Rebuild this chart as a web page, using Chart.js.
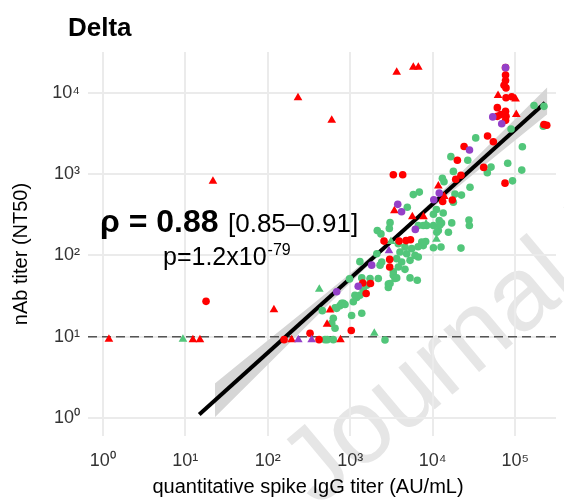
<!DOCTYPE html>
<html>
<head>
<meta charset="utf-8">
<script src="https://cdn.jsdelivr.net/npm/chart.js@4.4.1/dist/chart.umd.min.js"></script>
<style>
    html, body { margin: 0; padding: 0; background: #fff; }
    canvas { display: block; }
</style>
</head>
<body>
<canvas id="deltaChart" width="564" height="502"></canvas>
<script>
// Ejes (escala logaritmica)
const xMin = 0.664;
const xMax = 312000;
const yMin = 0.644;
const yMax = 31800;
const xTickValues = [1, 10, 100, 1000, 10000, 100000];
const xTickLabels = ["10⁰", "10¹", "10²", "10³", "10⁴", "10⁵"];
const yTickValues = [1, 10, 100, 1000, 10000];
const yTickLabels = ["10⁰", "10¹", "10²", "10³", "10⁴"];

// Limite de deteccion
const lodY = 10;

// Puntos rojos (circulos y triangulos)
const redCircleX = [17.9, 158, 326, 419, 1030, 1420, 1760, 1560, 3010, 3010, 2570, 3910, 4750, 5380, 3330, 4330, 13200, 17300, 19000, 22000, 19900, 24000, 46200, 54300, 41500, 75200, 76300, 76300, 76300, 73200, 77300, 77300, 90700, 60700, 76300, 77300, 60700, 76300, 66700, 223000, 241000];
const redCircleY = [27.2, 9.2, 11.0, 9.2, 11.9, 45.7, 45.1, 34.0, 89.3, 72.1, 150, 150, 152, 156, 984, 984, 460, 480, 866, 970, 1480, 2190, 2950, 2500, 1210, 774, 20400, 16600, 14200, 12400, 11500, 8710, 8960, 6570, 5920, 5140, 5140, 4590, 5400, 4070, 3990];
const redTriangleX = [1.19, 12.4, 15.1, 21.7, 119, 233, 597, 3660, 5820, 6690, 195, 569, 524, 762, 3430, 5660, 7730, 11700, 13800, 61900, 101000, 103000];
const redTriangleY = [9.3, 9.2, 9.2, 819, 21.4, 8710, 4590, 17950, 20650, 20650, 9.2, 21.3, 14.2, 9.2, 354, 299, 299, 716, 529, 9270, 8390, 5400];

// Puntos morados
const purpleCircleX = [76300, 53400, 68600, 27900, 12000, 10300, 3770, 4190, 6150, 1820, 1250, 686];
const purpleCircleY = [20400, 5060, 4160, 1980, 584, 484, 425, 345, 209, 75.9, 41.8, 35.7];
const purpleTriangleX = [235, 341, 2950];
const purpleTriangleY = [9.2, 9.2, 114];

// Puntos verdes
const greenTriangleX = [9.4, 422, 1960, 3120, 8300, 11100];
const greenTriangleY = [9.3, 38.4, 11.0, 148, 244, 158];
const greenCircleX = [169000, 223000, 219000, 89000, 33200, 122000, 16600, 26600, 81100, 50900, 45900, 120000, 17800, 92700, 28300, 13100, 13700, 18600, 22300, 17800, 5820, 6880, 4920, 11100, 13400, 10200, 3040, 2980, 2130, 2360, 17000, 12800, 27500, 27800, 12000, 15500, 11700, 8460, 7690, 6690, 10200, 12200, 11200, 8220, 7690, 10200, 12600, 22000, 7360, 3830, 4610, 5560, 6640, 4010, 4840, 6100, 3660, 4210, 5310, 6690, 3830, 4610, 3330, 3330, 3490, 5310, 6500, 2900, 2900, 2410, 2300, 1310, 2100, 982, 1380, 1740, 2190, 1580, 1440, 1310, 1200, 1090, 825, 752, 686, 1040, 1380, 624, 597, 655, 459, 495, 528, 624, 2640, 3040, 3660, 1140, 789, 865, 655];
const greenCircleY = [7000, 6820, 3880, 3590, 2790, 2170, 1640, 1480, 1360, 1220, 1040, 1120, 1080, 826, 688, 891, 807, 568, 552, 450, 560, 601, 391, 367, 333, 321, 253, 215, 202, 184, 251, 250, 273, 233, 268, 193, 202, 233, 233, 233, 233, 237, 193, 148, 132, 124, 127, 123, 146, 139, 127, 121, 128, 110, 105, 100, 91.2, 83, 86.9, 95.5, 72.1, 67.4, 62.7, 56.9, 51.9, 52.9, 49.5, 44.5, 40.3, 83, 75.9, 83.8, 105, 51.4, 52.9, 51.9, 51.9, 43, 37.3, 32.4, 30.4, 26.9, 25.7, 24.1, 22.3, 18.2, 19.4, 16.8, 14.6, 12.7, 20.9, 9.2, 9.2, 9.2, 9.1, 45.1, 52.9, 32.4, 25.7, 24.9, 22.7];

// Recta de regresion y banda de confianza
const fitX = [14.8, 230000];
const fitY = [1.1, 7550];
const bandX = [22.9, 100, 316, 1000, 3160, 10000, 31600, 100000, 245000];
const bandLow = [1.02, 4.51, 14.4, 45.6, 142, 389, 1010, 2610, 5470];
const bandHigh = [2.65, 8.95, 23.1, 59.8, 157, 472, 1500, 4760, 11700];

// Textos
const titleText = "Delta";
const rhoText = "ρ = 0.88";
const ciText = "[0.85–0.91]";
const pText = "p=1.2x10";
const pExp = "-79";
const xTitle = "quantitative spike IgG titer (AU/mL)";
const yTitle = "nAb titer (NT50)";
const watermarkText = "Journal Pre-proof";

const fontFamily = '"Liberation Sans", Arial, Helvetica, sans-serif';
const red = "#ff0000";
const green = "#52c67a";
const purple = "#9440c8";

const toPoints = (xs, ys) => xs.map((x, i) => ({ x: x, y: ys[i] }));
const powLabel = (values, labels) => (value) => {
    const i = values.indexOf(Math.round(value * 1000) / 1000);
    return i >= 0 ? labels[i] : "";
};

Chart.defaults.font.family = fontFamily;

// Marca de agua (debajo de todo) y textos de la grafica
const annotations = {
    id: "annotations",
    beforeDraw(chart) {
        const ctx = chart.ctx;
        ctx.save();
        ctx.fillStyle = "#fff";
        ctx.fillRect(0, 0, chart.width, chart.height);
        ctx.translate(317, 508);
        ctx.rotate((-40 * Math.PI) / 180);
        ctx.font = "105px " + fontFamily;
        ctx.fillStyle = "#e6e6e6";
        ctx.textBaseline = "alphabetic";
        ctx.fillText(watermarkText, 0, 0);
        ctx.restore();
    },
    afterDatasetsDraw(chart) {
        const ctx = chart.ctx;
        ctx.save();
        ctx.fillStyle = "#000";
        ctx.textAlign = "left";
        ctx.textBaseline = "alphabetic";

        ctx.font = "bold 26px " + fontFamily;
        ctx.fillText(titleText, 68, 36);

        ctx.font = "bold 32px " + fontFamily;
        ctx.fillText(rhoText, 100, 232);
        ctx.font = "26px " + fontFamily;
        ctx.fillText(ciText, 228, 232);

        ctx.font = "25px " + fontFamily;
        ctx.fillText(pText, 163, 265);
        const w = ctx.measureText(pText).width;
        ctx.font = "16px " + fontFamily;
        ctx.fillText(pExp, 163 + w + 1, 255);

        // Titulos de los ejes
        ctx.font = "20px " + fontFamily;
        ctx.textAlign = "center";
        ctx.textBaseline = "middle";
        ctx.fillText(xTitle, 308, 487);
        ctx.translate(21, 254);
        ctx.rotate(-Math.PI / 2);
        ctx.fillText(yTitle, 0, 0);
        ctx.restore();
    },
};

const ctx = document.getElementById("deltaChart").getContext("2d");
new Chart(ctx, {
    type: "scatter",
    data: {
        datasets: [
            {
                data: toPoints(bandX, bandLow),
                showLine: true,
                borderWidth: 0,
                pointRadius: 0,
                fill: false,
                order: 8,
            },
            {
                data: toPoints(bandX, bandHigh),
                showLine: true,
                borderWidth: 0,
                pointRadius: 0,
                fill: "-1",
                backgroundColor: "#d6d6d6",
                order: 7,
            },
            {
                data: toPoints([xMin, xMax], [lodY, lodY]),
                showLine: true,
                borderColor: "#555",
                borderWidth: 1.5,
                borderDash: [9, 5],
                pointRadius: 0,
                order: 6,
            },
            {
                data: toPoints(fitX, fitY),
                showLine: true,
                borderColor: "#000",
                borderWidth: 4,
                pointRadius: 0,
                order: 5,
            },
            {
                data: toPoints(greenCircleX, greenCircleY),
                pointStyle: "circle",
                pointRadius: 3.8,
                backgroundColor: green,
                borderWidth: 0,
                order: 4,
            },
            {
                data: toPoints(greenTriangleX, greenTriangleY),
                pointStyle: "triangle",
                pointRadius: 5,
                backgroundColor: green,
                borderWidth: 0,
                order: 4,
            },
            {
                data: toPoints(redCircleX, redCircleY),
                pointStyle: "circle",
                pointRadius: 3.8,
                backgroundColor: red,
                borderWidth: 0,
                order: 3,
            },
            {
                data: toPoints(redTriangleX, redTriangleY),
                pointStyle: "triangle",
                pointRadius: 5,
                backgroundColor: red,
                borderWidth: 0,
                order: 3,
            },
            {
                data: toPoints(purpleCircleX, purpleCircleY),
                pointStyle: "circle",
                pointRadius: 3.8,
                backgroundColor: purple,
                borderWidth: 0,
                order: 2,
            },
            {
                data: toPoints(purpleTriangleX, purpleTriangleY),
                pointStyle: "triangle",
                pointRadius: 5,
                backgroundColor: purple,
                borderWidth: 0,
                order: 2,
            },
        ],
    },
    options: {
        responsive: false,
        animation: false,
        devicePixelRatio: 1,
        layout: { padding: { top: 52, right: 8, left: 0, bottom: 0 } },
        plugins: {
            legend: { display: false },
            tooltip: { enabled: false },
        },
        scales: {
            x: {
                type: "logarithmic",
                min: xMin,
                max: xMax,
                afterBuildTicks: (scale) => {
                    scale.ticks = xTickValues.map((v) => ({ value: v }));
                },
                afterFit: (scale) => {
                    scale.height = 66;
                },
                ticks: {
                    callback: powLabel(xTickValues, xTickLabels),
                    font: { size: 18 },
                    color: "#333",
                    padding: 14,
                    maxRotation: 0,
                    autoSkip: false,
                },
                grid: { color: "#ebebeb", lineWidth: 2, drawTicks: false },
                border: { display: false },
            },
            y: {
                type: "logarithmic",
                min: yMin,
                max: yMax,
                afterBuildTicks: (scale) => {
                    scale.ticks = yTickValues.map((v) => ({ value: v }));
                },
                afterFit: (scale) => {
                    scale.width = 88;
                },
                ticks: {
                    callback: powLabel(yTickValues, yTickLabels),
                    font: { size: 18 },
                    color: "#333",
                    padding: 8,
                    autoSkip: false,
                },
                grid: { color: "#ebebeb", lineWidth: 2, drawTicks: false },
                border: { display: false },
            },
        },
    },
    plugins: [annotations],
});
</script>
</body>
</html>
